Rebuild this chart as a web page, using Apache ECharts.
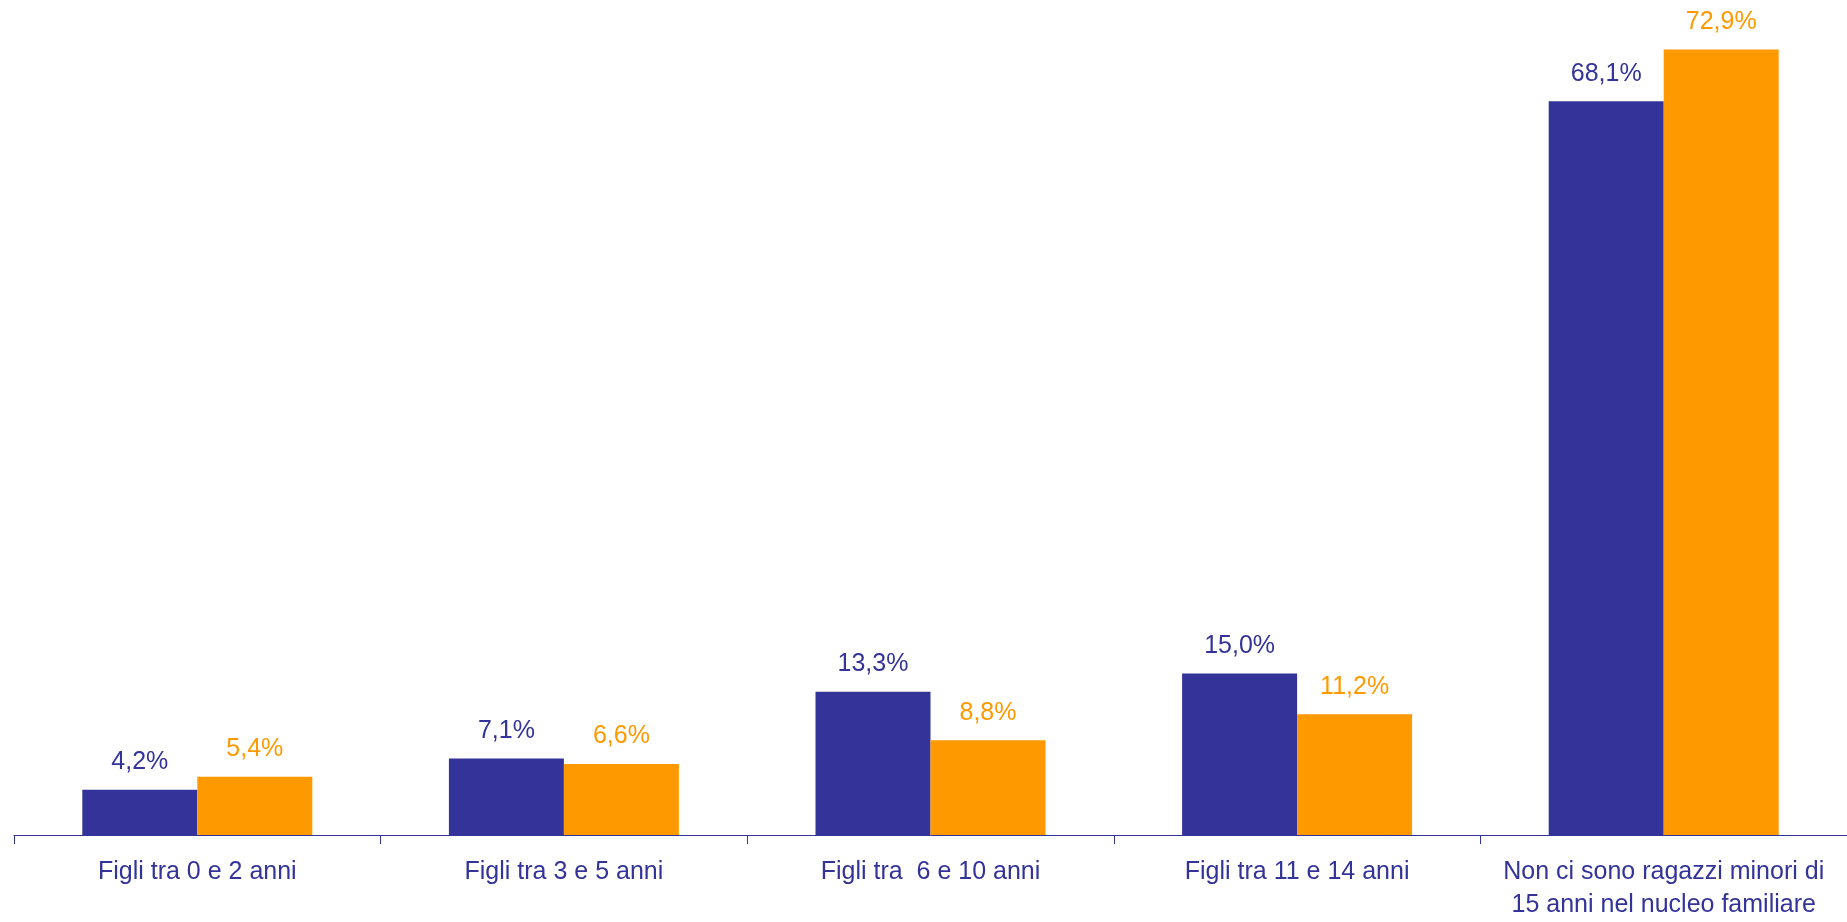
<!DOCTYPE html>
<html>
<head>
<meta charset="utf-8">
<script src="https://cdn.jsdelivr.net/npm/echarts@6/dist/echarts.min.js"></script>
<style>
  html, body { margin: 0; padding: 0; background: #fff; }
  #chart { width: 1847px; height: 922px; }
</style>
</head>
<body>
<div id="chart"></div>
<script>
// categories and values
const categories = [
  "Figli tra 0 e 2 anni",
  "Figli tra 3 e 5 anni",
  "Figli tra  6 e 10 anni",
  "Figli tra 11 e 14 anni",
  "Non ci sono ragazzi minori di\n15 anni nel nucleo familiare"
];
const serieBlu = [4.2, 7.1, 13.3, 15.0, 68.1];
const serieArancio = [5.4, 6.6, 8.8, 11.2, 72.9];

const BLU = "#333399";
const ARANCIO = "#FF9900";
const FONT = "'Liberation Sans', Arial, sans-serif";

const myChart = echarts.init(document.getElementById("chart"));

function pct(p) {
  return p.value.toFixed(1).replace(".", ",") + "%";
}

const option = {
  animation: false,
  grid: { left: 14, right: -3, top: 0, bottom: 85 },
  xAxis: {
    type: "category",
    data: categories,
    axisLine: { lineStyle: { color: BLU, width: 1 } },
    axisTick: { show: true, length: 9, lineStyle: { color: BLU } },
    axisLabel: {
      color: BLU,
      fontFamily: FONT,
      fontSize: 25,
      lineHeight: 33,
      margin: 21,
      interval: 0
    }
  },
  yAxis: {
    type: "value",
    min: 0,
    max: 77.5,
    show: false,
    splitLine: { show: false }
  },
  series: [
    {
      name: "Serie 1",
      type: "bar",
      barWidth: 115,
      barGap: "0%",
      itemStyle: { color: BLU },
      label: {
        show: true,
        position: "top",
        distance: 15,
        color: BLU,
        fontFamily: FONT,
        fontSize: 25,
        formatter: pct
      },
      data: serieBlu
    },
    {
      name: "Serie 2",
      type: "bar",
      barWidth: 115,
      barGap: "0%",
      itemStyle: { color: ARANCIO },
      label: {
        show: true,
        position: "top",
        distance: 15,
        color: ARANCIO,
        fontFamily: FONT,
        fontSize: 25,
        formatter: pct
      },
      data: serieArancio
    }
  ]
};

myChart.setOption(option);
</script>
</body>
</html>
